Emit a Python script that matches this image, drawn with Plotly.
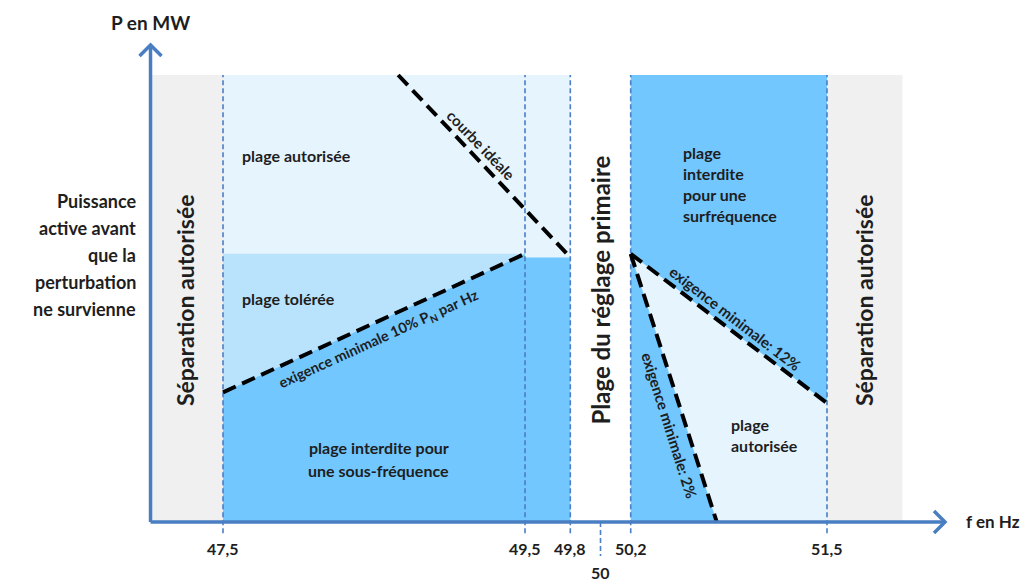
import plotly.graph_objects as go

# ---------------- data ----------------
tick_freqs = [47.5, 49.5, 49.8, 50.2, 51.5]
tick_labels = ["47,5", "49,5", "49,8", "50,2", "51,5"]
nominal_freq = 50.0
nominal_label = "50"

f_axis = 47.02          # position of vertical axis
f_sep_low = 47.5        # separation allowed below
f_sep_high = 51.5       # separation allowed above
f_gray_end = 52.0
f_db_low = 49.8         # primary control deadband
f_db_high = 50.2
p_top = 100
p_tol = 60              # tolerated band top
p_tol_dark = 59.2

ideal_f = [48.66, 49.8]
ideal_p = [100, 59.2]
min10_f = [47.5, 49.5]
min10_p = [29.0, 60.0]
min12_f = [50.2, 51.5]
min12_p = [60.0, 26.6]
min2_f = [50.2, 50.77]
min2_p = [60.0, 0.0]

# ---------------- style ----------------
GRAY = "#F0F0F0"
LIGHT = "#E6F4FE"
MED = "#B9E3FD"
DARK = "#71C7FE"
AXIS = "#4A7EC2"
VLINE = "#4A7EC8"
TXT = "#1E1E1E"
FONT = "Lato"

# canvas mapping (page has an 8 px body margin): px per Hz, px per unit
OFF = 8
W, H = 1029 - OFF, 581 - OFF
PXF = 151.0
PXP = 4.47
x_range = [47.5 - (223 - OFF) / PXF, 47.5 + (1029 - 223) / PXF]
y_range = [-(581 - 522) / PXP, (522 - OFF) / PXP]

fig = go.Figure()


def poly(xs, ys, color):
    fig.add_trace(go.Scatter(x=xs, y=ys, fill="toself", fillcolor=color,
                             mode="lines", line=dict(width=0), hoverinfo="skip"))


# background regions
poly([f_axis, f_sep_low, f_sep_low, f_axis], [0, 0, p_top, p_top], GRAY)
poly([f_sep_high, f_gray_end, f_gray_end, f_sep_high], [0, 0, p_top, p_top], GRAY)
poly([f_sep_low, f_db_low, f_db_low, f_sep_low], [0, 0, p_top, p_top], LIGHT)
poly([min10_f[0], min10_f[1], min10_f[1], min10_f[0]], [min10_p[0], min10_p[1], p_tol, p_tol], MED)
poly([min10_f[1], f_db_low, f_db_low, min10_f[1]], [0, 0, p_tol_dark, p_tol_dark], DARK)
poly([min10_f[0], min10_f[1], min10_f[1], min10_f[0]],
     [min10_p[0], min10_p[1], 0, 0], DARK)
poly([f_db_high, f_sep_high, f_sep_high, f_db_high], [0, 0, p_top, p_top], DARK)
poly([min12_f[0], min12_f[1], min12_f[1], min2_f[1]], [min12_p[0], min12_p[1], 0, 0], LIGHT)

# dashed vertical lines
for f in tick_freqs:
    fig.add_trace(go.Scatter(x=[f, f], y=[-2.5, p_top], mode="lines",
                             line=dict(color=VLINE, width=1.6, dash="5px,3px"), hoverinfo="skip"))
fig.add_trace(go.Scatter(x=[nominal_freq, nominal_freq], y=[0, -7.6], mode="lines",
                         line=dict(color=VLINE, width=1.6, dash="5px,3px"), hoverinfo="skip"))

# black dashed characteristic lines
for xs, ys in [(ideal_f, ideal_p), (min10_f, min10_p), (min12_f, min12_p), (min2_f, min2_p)]:
    fig.add_trace(go.Scatter(x=xs, y=ys, mode="lines",
                             line=dict(color="black", width=4, dash="14px,7px"), hoverinfo="skip"))

# axes with chevron arrowheads
y_tip = (522 - 45) / PXP
x_tip = 47.5 + (945 - 223) / PXF
fig.add_trace(go.Scatter(x=[f_axis, f_axis], y=[0, y_tip], mode="lines",
                         line=dict(color=AXIS, width=3.5), hoverinfo="skip"))
fig.add_trace(go.Scatter(x=[f_axis, x_tip], y=[0, 0], mode="lines",
                         line=dict(color=AXIS, width=3.5), hoverinfo="skip"))
a = 11
fig.add_trace(go.Scatter(x=[f_axis - a / PXF, f_axis, f_axis + a / PXF],
                         y=[y_tip - a / PXP, y_tip, y_tip - a / PXP], mode="lines",
                         line=dict(color=AXIS, width=3.5), hoverinfo="skip"))
fig.add_trace(go.Scatter(x=[x_tip - a / PXF, x_tip, x_tip - a / PXF],
                         y=[a / PXP, 0, -a / PXP], mode="lines",
                         line=dict(color=AXIS, width=3.5), hoverinfo="skip"))


def txt(x, y, t, size=14, angle=0, xanchor="center", yanchor="middle", align="center"):
    fig.add_annotation(x=x, y=y, text=t, showarrow=False, textangle=angle,
                       xanchor=xanchor, yanchor=yanchor, align=align,
                       font=dict(family=FONT, size=size, color=TXT, weight="bold"))


# tick labels
for f, lab in zip(tick_freqs, tick_labels):
    txt(f, -6.0, lab, size=16)
txt(nominal_freq, -11.4, nominal_label, size=16)

# axis titles
txt(f_axis, (522 - 22) / PXP, "P en MW", size=19)
txt(47.5 + 770 / PXF, 0.2, "f en Hz", size=17)
left_lines = ["Puissance", "active avant", "que la", "perturbation", "ne survienne"]
for i, line in enumerate(left_lines):
    txt(47.5 - 85 / PXF, (522 - (201 + 27 * i)) / PXP, line, size=18, xanchor="right", align="right")

# rotated region titles
txt(47.25, 49.7, "Séparation autorisée", size=23, angle=-90)
txt(51.746, 49.7, "Séparation autorisée", size=23, angle=-90)
txt(50.0, 51.9, "Plage du réglage primaire", size=24, angle=-90)

# region labels
txt(47.61, 82.1, "plage autorisée", size=16, xanchor="left")
txt(47.61, 50.1, "plage tolérée", size=16, xanchor="left")
for i, line in enumerate(["plage interdite pour", "une sous-fréquence"]):
    txt(48.53, (522 - (447 + 23 * i)) / PXP, line, size=16)
for i, line in enumerate(["plage", "interdite", "pour une", "surfréquence"]):
    txt(50.53, (522 - (152 + 21 * i)) / PXP, line, size=16, xanchor="left")
for i, line in enumerate(["plage", "autorisée"]):
    txt(50.85, (522 - (424 + 21 * i)) / PXP, line, size=16, xanchor="left")

# line labels
txt(49.21, 84.3, "courbe idéale", size=15, angle=46)
txt(48.53, 40.9, "exigence minimale 10% P<sub>N</sub> par Hz", size=14.5, angle=-24.4)
txt(50.89, 45.6, "exigence minimale: 12%", size=15, angle=37.5)
txt(50.457, 21.7, "exigence minimale: 2%", size=15, angle=72.5)

fig.update_layout(
    width=W, height=H, margin=dict(l=0, r=0, t=0, b=0),
    paper_bgcolor="white", plot_bgcolor="white", showlegend=False,
    xaxis=dict(range=x_range, visible=False, fixedrange=True),
    yaxis=dict(range=y_range, visible=False, fixedrange=True),
)
fig.write_html("out.html")
